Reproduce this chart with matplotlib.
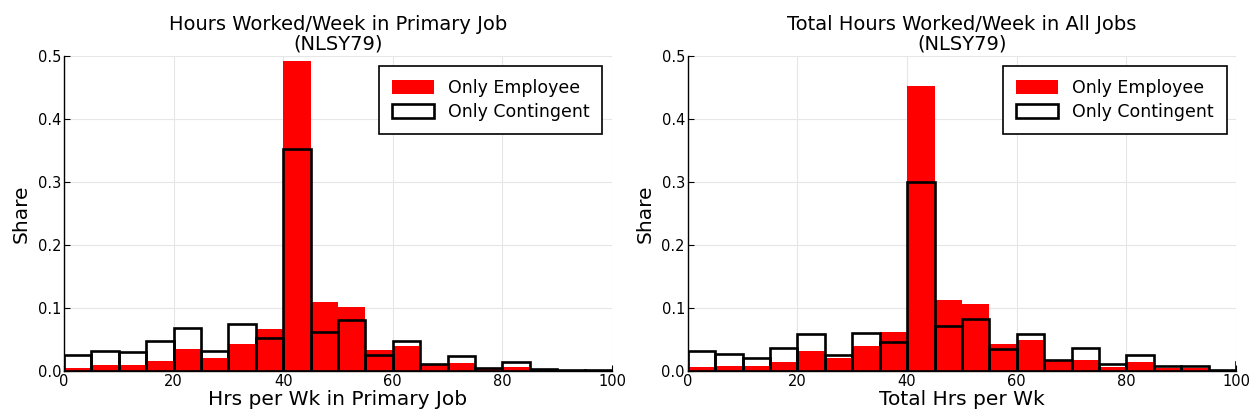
import matplotlib.pyplot as plt
import numpy as np

# bin left edges (width 5 hours)
edges_primary = np.arange(0, 100, 5)
edges_total = np.arange(0, 105, 5)

# left panel: hours in primary job
emp_primary = [0.005, 0.009, 0.010, 0.016, 0.035, 0.020, 0.043, 0.067, 0.492, 0.110,
               0.102, 0.034, 0.039, 0.009, 0.013, 0.004, 0.006, 0.003, 0.002, 0.001]
con_primary = [0.026, 0.032, 0.030, 0.047, 0.068, 0.032, 0.074, 0.053, 0.352, 0.062,
               0.081, 0.026, 0.048, 0.011, 0.024, 0.004, 0.015, 0.003, 0.002, 0.001]

# right panel: total hours in all jobs (last bin 100-105 is clipped by the axis)
emp_total = [0.007, 0.008, 0.008, 0.014, 0.031, 0.020, 0.039, 0.062, 0.452, 0.113,
             0.107, 0.043, 0.049, 0.018, 0.018, 0.007, 0.014, 0.005, 0.005, 0.001, 0.0]
con_total = [0.032, 0.027, 0.021, 0.037, 0.059, 0.026, 0.061, 0.046, 0.300, 0.072,
             0.082, 0.035, 0.058, 0.018, 0.036, 0.011, 0.025, 0.008, 0.008, 0.001, 0.014]

panels = [
    ("Hours Worked/Week in Primary Job\n(NLSY79)", "Hrs per Wk in Primary Job",
     edges_primary, emp_primary, con_primary),
    ("Total Hours Worked/Week in All Jobs\n(NLSY79)", "Total Hrs per Wk",
     edges_total, emp_total, con_total),
]

fig = plt.figure(figsize=(12.55, 4.19), dpi=100)
positions = [[0.051, 0.1146, 0.4366, 0.7514], [0.548, 0.1146, 0.437, 0.7514]]

for pos, (title, xlabel, edges, emp, con) in zip(positions, panels):
    ax = fig.add_axes(pos)
    ax.bar(edges, emp, width=5, align='edge', color='#ff0000', edgecolor='none',
           label='Only Employee', zorder=2)
    ax.bar(edges, con, width=5, align='edge', fill=False, edgecolor='black',
           linewidth=1.9, label='Only Contingent', zorder=3)
    ax.set_xlim(0, 100)
    ax.set_ylim(0, 0.5)
    ax.set_xticks([0, 20, 40, 60, 80, 100])
    ax.set_yticks([0.0, 0.1, 0.2, 0.3, 0.4, 0.5])
    ax.set_yticklabels(['0.0', '0.1', '0.2', '0.3', '0.4', '0.5'])
    ax.grid(True, color='#e6e6e6', linewidth=0.8, zorder=0)
    ax.set_axisbelow(True)
    for s in ['top', 'right']:
        ax.spines[s].set_visible(False)
    for s in ['left', 'bottom']:
        ax.spines[s].set_linewidth(1.0)
        ax.spines[s].set_zorder(4)
    ax.tick_params(direction='in', length=4, labelsize=10.5, pad=2)
    ax.set_title(title, fontsize=14, pad=5, linespacing=1.0)
    ax.set_xlabel(xlabel, fontsize=14.5, labelpad=1)
    ax.set_ylabel('Share', fontsize=14.5, labelpad=5)
    leg = ax.legend(loc='upper right', fontsize=12.5, fancybox=False, framealpha=1,
                    edgecolor='black', borderaxespad=0.55, handlelength=2.4,
                    handleheight=0.9, handletextpad=0.8, borderpad=0.75,
                    labelspacing=0.35)
    leg.get_frame().set_linewidth(1.2)

plt.savefig('out.png', dpi=100)
